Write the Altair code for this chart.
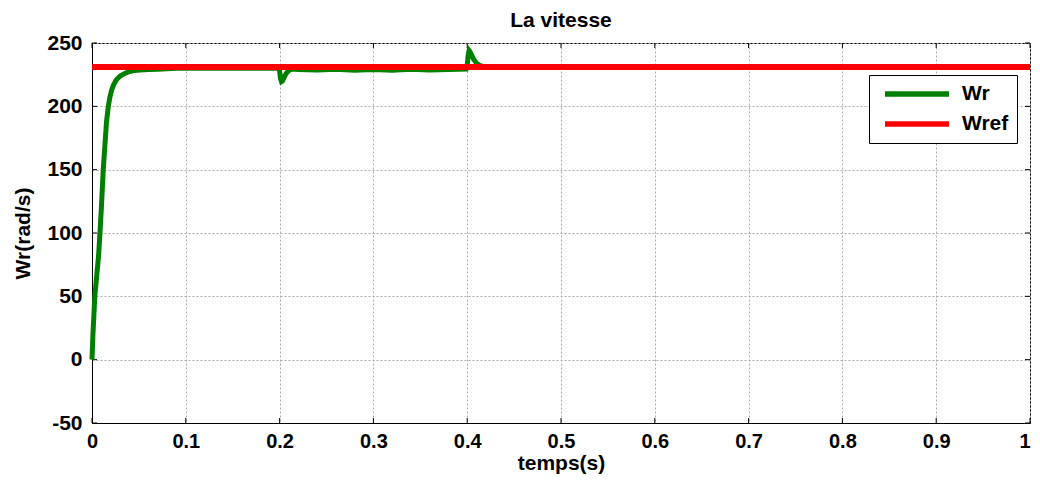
import altair as alt
import pandas as pd

# Wr (green) samples
t_wr = [0.0, 0.001, 0.002, 0.003, 0.005, 0.007, 0.0085, 0.010, 0.012, 0.014, 0.0155, 0.0174,
        0.019, 0.021, 0.023, 0.026, 0.030, 0.035, 0.040, 0.045, 0.051, 0.060, 0.070, 0.080,
        0.090, 0.100, 0.150, 0.199, 0.200, 0.201, 0.202, 0.203, 0.205, 0.207, 0.210, 0.214,
        0.220, 0.240, 0.260, 0.280, 0.300, 0.320, 0.340, 0.360, 0.380, 0.399, 0.400, 0.401,
        0.402, 0.403, 0.405, 0.407, 0.410, 0.414, 0.420, 0.430, 0.500, 0.600, 0.700, 0.800,
        0.900, 1.0]
w_wr = [0.0, 20, 35, 50, 66, 82, 100, 120, 150, 172, 188, 200,
        207, 213, 217, 221, 224, 226, 227.5, 228.3, 228.6, 229, 229.3, 229.6,
        230, 230, 230, 230, 228, 222, 219.5, 220, 223, 226, 228.5, 229.5,
        229, 228.6, 229.2, 228.5, 229, 228.4, 229.2, 228.6, 229, 229.5, 232, 240,
        244, 243, 240, 237, 234, 232, 231, 231, 231, 231, 231, 231,
        231, 231]

# Wref (red)
t_ref = [0.0, 1.0]
w_ref = [231, 231]

series_names = ["Wr", "Wref"]
series_colors = ["#008000", "#ff0000"]

x_ticks = [0, 0.1, 0.2, 0.3, 0.4, 0.5, 0.6, 0.7, 0.8, 0.9, 1]
y_ticks = [-50, 0, 50, 100, 150, 200, 250]

W, H = 938, 380
FONT = "Liberation Sans"

df_wr = pd.DataFrame({"t": t_wr, "w": w_wr, "s": "Wr"})
df_ref = pd.DataFrame({"t": t_ref, "w": w_ref, "s": "Wref"})
df_xt = pd.DataFrame({"t": x_ticks})
df_yt = pd.DataFrame({"w": y_ticks})

x_scale = alt.Scale(domain=[0, 1], nice=False)
y_scale = alt.Scale(domain=[-50, 250], nice=False)

x_enc = alt.X("t:Q", scale=x_scale,
              axis=alt.Axis(title="temps(s)", values=x_ticks, format="~g",
                            labelAlign=alt.condition("datum.value == 1",
                                                     alt.value("right"),
                                                     alt.value("center"))))
y_enc = alt.Y("w:Q", scale=y_scale,
              axis=alt.Axis(title="Wr(rad/s)", values=y_ticks,
                            labelExpr="'' + datum.value"))
color_enc = alt.Color("s:N", scale=alt.Scale(domain=series_names, range=series_colors),
                      legend=alt.Legend(title=None, orient="none", legendX=777, legendY=32,
                                        symbolType="M-0.375,0H7.625", symbolSize=256,
                                        symbolStrokeWidth=5.5, labelFontSize=21,
                                        labelFont=FONT, labelFontWeight="bold",
                                        labelColor="black",
                                        fillColor="white", strokeColor="black",
                                        padding=8, rowPadding=8, labelOffset=63))

green = alt.Chart(df_wr).mark_line(strokeWidth=5).encode(x=x_enc, y=y_enc, color=color_enc)
red = alt.Chart(df_ref).mark_line(strokeWidth=6).encode(x=x_enc, y=y_enc, color=color_enc)

# inward MATLAB-style ticks on all four sides
tick_col = "black"
xt_bottom = alt.Chart(df_xt).mark_rule(color=tick_col).encode(
    x=alt.X("t:Q", scale=x_scale), y=alt.value(H), y2=alt.value(H - 5))
xt_top = alt.Chart(df_xt).mark_rule(color=tick_col).encode(
    x=alt.X("t:Q", scale=x_scale), y=alt.value(0), y2=alt.value(5))
yt_left = alt.Chart(df_yt).mark_rule(color=tick_col).encode(
    y=alt.Y("w:Q", scale=y_scale), x=alt.value(0), x2=alt.value(5))
yt_right = alt.Chart(df_yt).mark_rule(color=tick_col).encode(
    y=alt.Y("w:Q", scale=y_scale), x=alt.value(W), x2=alt.value(W - 5))

chart = alt.layer(xt_bottom, xt_top, yt_left, yt_right, green, red).properties(
    width=W, height=H,
    title=alt.TitleParams("La vitesse", font=FONT, fontSize=21, fontWeight="bold",
                          color="black", offset=1),
    autosize=alt.AutoSizeParams(type="none"),
    padding={"left": 84, "top": 35, "right": 2, "bottom": 51},
).configure_view(
    stroke="black", strokeWidth=1
).configure_axis(
    labelFont=FONT, labelFontSize=21, labelFontWeight="bold", labelColor="black",
    titleFont=FONT, titleFontSize=21, titleFontWeight="bold", titleColor="black",
    grid=True, gridColor="#aaaaaa", gridDash=[2, 2], gridWidth=1,
    ticks=False, domainColor="black", labelFlush=False,
).configure_axisY(
    labelPadding=10, titlePadding=13
).configure_axisX(
    labelPadding=8, labelFontSize=20, titlePadding=1
)

chart.save("out.html", embed_options={"renderer": "svg", "actions": False})
